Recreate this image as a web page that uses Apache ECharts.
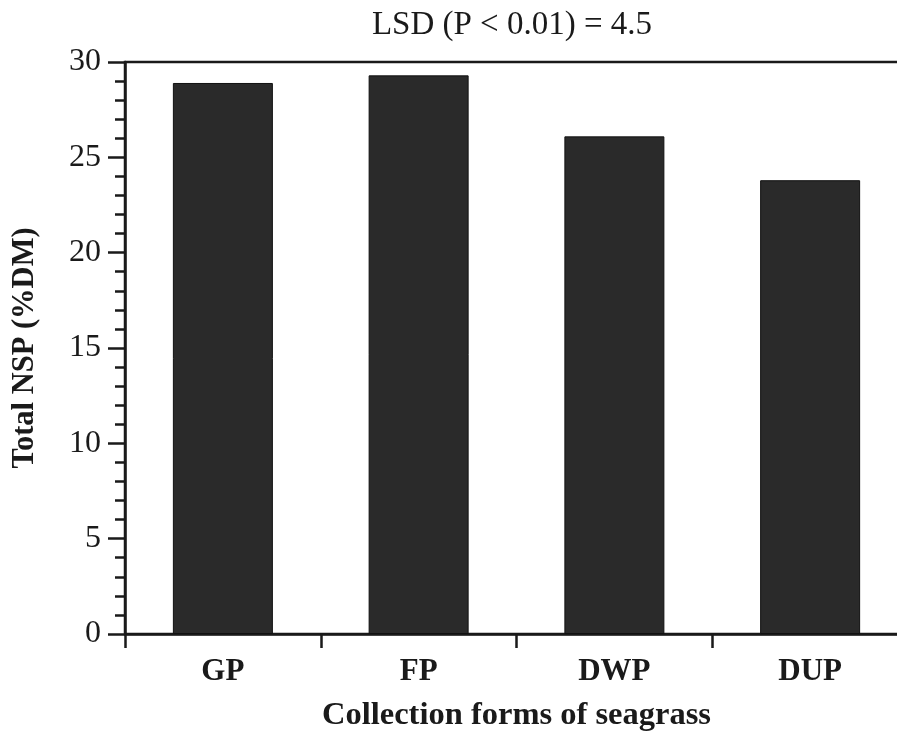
<!DOCTYPE html>
<html>
<head>
<meta charset="utf-8">
<script src="https://cdn.jsdelivr.net/npm/echarts@6/dist/echarts.min.js"></script>
<style>
html,body{margin:0;padding:0;background:#fff;}
#chart{width:897px;height:735px;}
</style>
</head>
<body>
<div id="chart"></div>
<script>
const categories = ['GP', 'FP', 'DWP', 'DUP'];
const nspValues = [28.9, 29.3, 26.1, 23.8];
const yTicks = [0, 5, 10, 15, 20, 25, 30];

const FONT = '"Liberation Serif", "Times New Roman", serif';
const chart = echarts.init(document.getElementById('chart'));
chart.setOption({
  backgroundColor: '#fff',
  animation: false,
  title: {
    text: 'LSD (P < 0.01) = 4.5',
    left: 507, top: 4,
    textAlign: 'center',
    textStyle: { fontFamily: FONT, fontSize: 33, fontWeight: 'normal', color: '#1a1a1a' }
  },
  grid: {
    left: 125, top: 62, width: 783, height: 572,
    outerBoundsMode: 'none',
    containLabel: false,
    show: true, borderColor: '#1a1a1a', borderWidth: 2.5, backgroundColor: 'transparent'
  },
  xAxis: {
    type: 'category',
    data: categories,
    boundaryGap: true,
    name: 'Collection forms of seagrass',
    nameLocation: 'middle',
    nameGap: 65,
    nameTextStyle: { fontFamily: FONT, fontSize: 32.5, fontWeight: 'bold', color: '#1a1a1a' },
    axisLine: { lineStyle: { color: '#1a1a1a', width: 2.5 } },
    axisTick: { show: true, length: 14, interval: 0, lineStyle: { color: '#1a1a1a', width: 2.5 } },
    axisLabel: { fontFamily: FONT, fontSize: 31, fontWeight: 'bold', color: '#1a1a1a', margin: 22 },
    splitLine: { show: false }
  },
  yAxis: {
    type: 'value',
    min: 0, max: 30, interval: 5,
    name: 'Total NSP (%DM)',
    nameLocation: 'middle',
    nameRotate: 90,
    nameGap: 84,
    nameTextStyle: { fontFamily: FONT, fontSize: 30.5, fontWeight: 'bold', color: '#1a1a1a' },
    axisLine: { show: true, lineStyle: { color: '#1a1a1a', width: 2.5 } },
    axisTick: { show: true, length: 17, lineStyle: { color: '#1a1a1a', width: 2.5 } },
    minorTick: { show: true, splitNumber: 5, length: 10, lineStyle: { color: '#1a1a1a', width: 2.5 } },
    axisLabel: {
      fontFamily: FONT, fontSize: 32, color: '#1a1a1a', margin: 24,
      formatter: v => yTicks.includes(v) ? String(v) : ''
    },
    splitLine: { show: false }
  },
  series: [{
    type: 'bar',
    data: nspValues,
    barWidth: 100,
    itemStyle: { color: '#2a2a2a', borderColor: '#111', borderWidth: 1 }
  }]
});
</script>
</body>
</html>
